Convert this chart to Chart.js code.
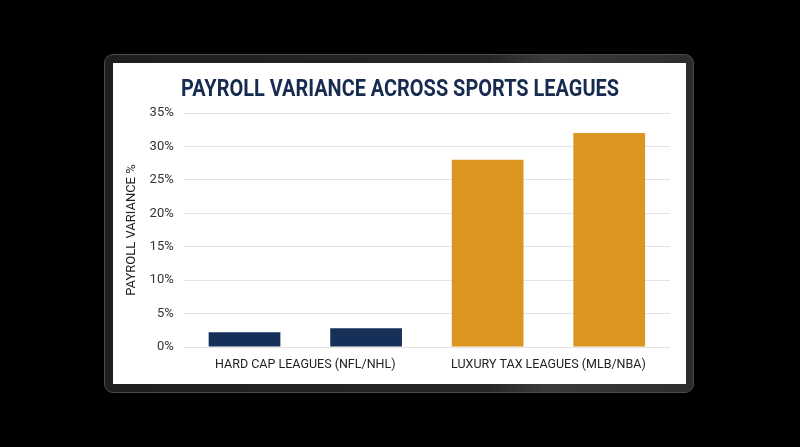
<!DOCTYPE html>
<html>
<head>
<meta charset="utf-8">
<script src="https://cdn.jsdelivr.net/npm/chart.js@4/dist/chart.umd.min.js"></script>
<style>
  html, body { margin: 0; padding: 0; background: #000; width: 800px; height: 447px; overflow: hidden; }
  .bezel {
    position: absolute; left: 104px; top: 54px; width: 588px; height: 337px;
    background: linear-gradient(90deg, #1e1e1e 0%, #262626 65%, #3a3a3a 75%, #2c2c2c 100%);
    border: 1px solid #4a4a4a; border-radius: 9px;
  }
  .screen {
    position: absolute; left: 113px; top: 63px; width: 573px; height: 321px; background: #fff;
  }
  canvas { display: block; }
</style>
</head>
<body>
<div class="bezel"></div>
<div class="screen"><canvas id="payrollChart" width="573" height="321"></canvas></div>
<script>
// chart data
const chartTitle = "PAYROLL VARIANCE ACROSS SPORTS LEAGUES";
const categories = ["HARD CAP LEAGUES (NFL/NHL)", "LUXURY TAX LEAGUES (MLB/NBA)"];
const firstLeague = [2.2, 28];   // NFL, MLB
const secondLeague = [2.8, 32];  // NHL, NBA
const groupColors = ["#16305a", "#dc9520"];
const yMax = 35;
const yStep = 5;

// the title uses a condensed face, no condensed font installed so squeeze Roboto bold
const condensedTitle = {
  id: "condensedTitle",
  afterDraw(chart) {
    const c = chart.ctx;
    c.save();
    c.font = "bold 24px Roboto";
    c.fillStyle = "#172b50";
    c.textAlign = "center";
    c.textBaseline = "alphabetic";
    const w = c.measureText(chartTitle).width;
    const sx = 438 / w;
    c.translate(287, 33);
    c.scale(sx, 1);
    c.fillText(chartTitle, 0, 0);
    c.restore();
  }
};

const ctx = document.getElementById("payrollChart");
const data = {
  labels: categories,
  datasets: [
    { label: "League A", data: firstLeague, backgroundColor: groupColors, borderWidth: 0 },
    { label: "League B", data: secondLeague, backgroundColor: groupColors, borderWidth: 0 },
  ],
};
const options = {
  responsive: false,
  animation: false,
  datasets: { bar: { categoryPercentage: 1.0, barPercentage: 0.59 } },
  layout: { padding: { left: 11, right: 16, top: 50, bottom: 10 } },
  scales: {
    x: {
      grid: { display: false },
      border: { display: false },
      ticks: { color: "#222", font: { family: "Roboto", size: 12.5 }, padding: 2 },
    },
    y: {
      min: 0,
      max: yMax,
      ticks: {
        stepSize: yStep,
        color: "#333",
        font: { family: "Roboto", size: 13 },
        padding: 10,
        callback: v => v + "%",
      },
      grid: { color: "#e3e3e3", drawTicks: false },
      border: { display: false },
      title: {
        display: true,
        text: "PAYROLL VARIANCE %",
        color: "#222",
        font: { family: "Roboto", size: 13 },
        padding: { top: 0, bottom: 0 },
      },
    },
  },
  plugins: {
    legend: { display: false },
    tooltip: { enabled: false },
    title: { display: false },
  },
};
new Chart(ctx, { type: "bar", data: data, options: options, plugins: [condensedTitle] });
</script>
</body>
</html>
